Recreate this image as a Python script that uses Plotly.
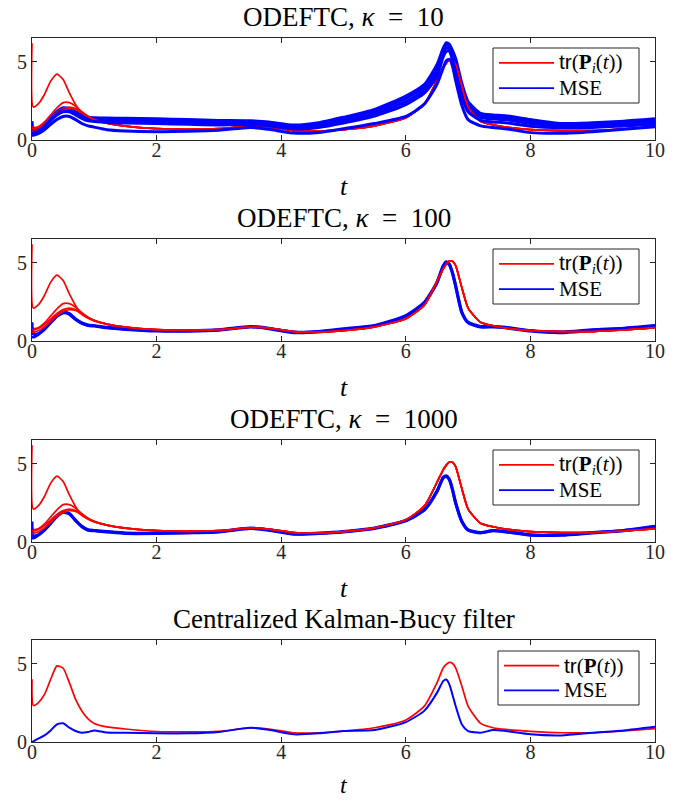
import plotly.graph_objects as go

W, H = 695, 801

# ---------------- data ----------------
T = [0, 0.02, 0.1, 0.2, 0.3, 0.4, 0.5, 0.6, 0.7, 0.8, 0.9, 1.0, 1.2, 1.5, 2.0, 2.5,
     3.0, 3.5, 3.8, 4.2, 4.6, 5.0, 5.5, 6.0, 6.3, 6.5, 6.6, 6.65, 6.7, 6.75, 6.8,
     6.9, 7.0, 7.2, 7.4, 7.6, 8.0, 8.5, 9.0, 9.5, 10.0]

# tr(P_i(t)) of the agents (same in the three ODEFTC panels)
RED_TAIL = [1.08, 0.88, 0.72, 0.68, 0.72, 0.88, 0.82, 0.6, 0.57, 0.66, 0.9, 1.42, 2.3,
            3.8, 4.6, 4.9, 5.1, 5.08, 4.8, 3.4, 2.1, 1.2, 0.97, 0.82, 0.66, 0.6, 0.6,
            0.7, 0.85]
RED_A_HEAD = [6.17, 2.1, 2.3, 2.9, 3.75, 4.2, 3.85, 3.0, 2.25, 1.7, 1.45, 1.28]
RED_B_HEAD = [0.85, 0.8, 0.85, 1.15, 1.6, 2.05, 2.38, 2.38, 2.15, 1.8, 1.52, 1.32]
RED_C_HEAD = [0.75, 0.7, 0.8, 1.05, 1.4, 1.75, 2.0, 2.1, 2.0, 1.75, 1.5, 1.3]
RED_D_HEAD = [0.55, 0.55, 0.65, 0.9, 1.25, 1.6, 1.88, 2.0, 1.95, 1.72, 1.48, 1.3]

# MSE, kappa = 10
MSE10_1 = [1.2, 0.7, 0.75, 1.0, 1.4, 1.8, 2.05, 2.0, 1.8, 1.6, 1.45, 1.42, 1.4, 1.38,
           1.35, 1.3, 1.25, 1.22, 1.15, 0.95, 1.1, 1.45, 1.95, 2.8, 3.55, 4.8, 5.85,
           6.2, 6.1, 5.7, 5.2, 3.6, 2.45, 1.7, 1.6, 1.55, 1.3, 1.05, 1.1, 1.2, 1.35]
MSE10_2 = [0.8, 0.6, 0.65, 0.95, 1.35, 1.75, 1.95, 1.95, 1.75, 1.5, 1.38, 1.35, 1.32,
           1.28, 1.25, 1.2, 1.15, 1.14, 1.07, 0.87, 1.0, 1.35, 1.82, 2.65, 3.4, 4.6,
           5.7, 6.05, 5.95, 5.5, 4.9, 3.3, 2.25, 1.6, 1.5, 1.45, 1.2, 0.98, 1.0, 1.1,
           1.25]
MSE10_3 = [0.6, 0.5, 0.6, 0.9, 1.3, 1.65, 1.9, 1.85, 1.65, 1.45, 1.3, 1.25, 1.22, 1.18,
           1.15, 1.1, 1.05, 1.06, 0.98, 0.78, 0.9, 1.22, 1.68, 2.45, 3.2, 4.3, 5.5,
           5.85, 5.8, 5.3, 4.6, 3.0, 2.0, 1.45, 1.35, 1.3, 1.05, 0.9, 0.92, 1.0, 1.12]
MSE10_4 = [0.5, 0.45, 0.55, 0.85, 1.25, 1.6, 1.8, 1.8, 1.6, 1.38, 1.22, 1.18, 1.12,
           1.08, 1.05, 1.0, 0.96, 0.98, 0.9, 0.7, 0.8, 1.08, 1.52, 2.25, 3.0, 4.05,
           5.3, 5.65, 5.65, 5.1, 4.3, 2.7, 1.8, 1.25, 1.15, 1.1, 0.88, 0.78, 0.8, 0.9,
           1.0]
MSE10_5 = [0.3, 0.3, 0.4, 0.65, 1.0, 1.3, 1.5, 1.5, 1.3, 1.05, 0.9, 0.82, 0.66, 0.58,
           0.53, 0.55, 0.62, 0.8, 0.68, 0.44, 0.48, 0.72, 1.05, 1.5, 2.3, 3.55, 4.6,
           5.05, 5.15, 4.7, 3.8, 2.2, 1.3, 0.9, 0.8, 0.72, 0.47, 0.43, 0.53, 0.68,
           0.85]

# MSE, kappa = 100
MSE100_1 = [0.3, 0.25, 0.42, 0.74, 1.16, 1.58, 1.79, 1.7, 1.37, 1.12, 0.99, 0.95, 0.84,
            0.74, 0.63, 0.62, 0.68, 0.9, 0.78, 0.53, 0.57, 0.74, 0.95, 1.58, 2.43,
            3.69, 4.75, 5.0, 4.85, 4.3, 3.48, 1.79, 1.16, 0.89, 0.89, 0.84, 0.63,
            0.53, 0.68, 0.78, 0.95]
MSE100_2 = [1.2, 0.45, 0.46, 0.78, 1.2, 1.62, 1.84, 1.74, 1.4, 1.15, 1.02, 0.98, 0.87,
            0.77, 0.67, 0.66, 0.72, 0.93, 0.82, 0.57, 0.61, 0.78, 0.99, 1.62, 2.48,
            3.75, 4.8, 5.05, 4.9, 4.35, 3.55, 1.85, 1.2, 0.93, 0.93, 0.88, 0.67, 0.57,
            0.72, 0.82, 0.99]

# MSE, kappa = 1000
MSE1000_1 = [0.25, 0.25, 0.43, 0.75, 1.18, 1.61, 1.89, 1.78, 1.35, 0.97, 0.75, 0.71,
             0.64, 0.54, 0.54, 0.58, 0.64, 0.86, 0.75, 0.49, 0.54, 0.64, 0.86, 1.35,
             2.04, 3.2, 4.08, 4.18, 3.97, 3.3, 2.47, 1.29, 0.75, 0.58, 0.71, 0.64,
             0.43, 0.43, 0.58, 0.71, 0.97]
MSE1000_2 = [1.3, 0.4, 0.46, 0.79, 1.22, 1.65, 1.93, 1.82, 1.39, 1.0, 0.78, 0.74, 0.67,
             0.57, 0.57, 0.61, 0.67, 0.89, 0.78, 0.52, 0.57, 0.67, 0.89, 1.38, 2.08,
             3.25, 4.12, 4.22, 4.0, 3.35, 2.52, 1.33, 0.78, 0.61, 0.74, 0.67, 0.46,
             0.46, 0.61, 0.74, 1.0]

# Centralized Kalman-Bucy filter
KB_TRACE = [4.0, 2.33, 2.5, 3.03, 4.0, 4.85, 4.7, 3.78, 2.71, 1.97, 1.47, 1.18, 0.96,
            0.83, 0.67, 0.64, 0.68, 0.9, 0.83, 0.59, 0.59, 0.7, 0.91, 1.4, 2.3, 3.77,
            4.72, 4.95, 5.08, 5.0, 4.72, 3.56, 2.29, 1.19, 0.91, 0.8, 0.68, 0.59, 0.59,
            0.7, 0.85]
KB_MSE = [0.0, 0.04, 0.21, 0.42, 0.74, 1.12, 1.19, 0.91, 0.7, 0.59, 0.64, 0.74, 0.6,
          0.59, 0.55, 0.55, 0.64, 0.91, 0.78, 0.49, 0.55, 0.7, 0.76, 1.27, 2.0, 3.13,
          3.88, 3.98, 3.66, 3.0, 2.29, 1.12, 0.7, 0.59, 0.76, 0.7, 0.49, 0.42, 0.59,
          0.74, 0.97]

X_TICKS = [0, 2, 4, 6, 8, 10]
Y_TICKS = [0, 5]
EQ = "\u2002=\u2002"
TITLES = ["ODEFTC, <i>κ</i>" + EQ + "10", "ODEFTC, <i>κ</i>" + EQ + "100",
          "ODEFTC, <i>κ</i>" + EQ + "1000", "Centralized Kalman-Bucy filter"]
TR = '<span style="font-family:Liberation Sans">tr</span>'
LEG_TRACE = [TR + "(<b>P</b><sub><i>i</i></sub>(<i>t</i>))"] * 3 + [TR + "(<b>P</b>(<i>t</i>))"]
LEG_MSE = "MSE"

red_agents = [RED_A_HEAD + RED_TAIL, RED_B_HEAD + RED_TAIL,
              RED_C_HEAD + RED_TAIL, RED_D_HEAD + RED_TAIL]
panels = [
    (red_agents, [MSE10_1, MSE10_2, MSE10_3, MSE10_4, MSE10_5]),
    (red_agents, [MSE100_1, MSE100_2]),
    (red_agents, [MSE1000_1, MSE1000_2]),
    ([KB_TRACE], [KB_MSE]),
]

# ---------------- styling / layout ----------------
RED, BLUE, AX = "#ff0000", "#0000ff", "#262626"
SERIF = "Liberation Serif"
X0, X1 = 32, 655
TOPS = [38, 239, 440, 640]
PH = 102
XLAB_OFF = [46, 46, 46, 43]
XLAB_SIZE = [26, 26, 26, 24]
LEGBOX = [(493, 48, 639, 103), (493, 249, 639, 304), (493, 450, 639, 505), (498, 651, 639, 705)]


def px(x):
    return x / W


def py(y):
    return 1 - y / H


fig = go.Figure()
layout = dict(width=W, height=H, margin=dict(l=0, r=0, t=0, b=0),
              paper_bgcolor="white", plot_bgcolor="white", showlegend=False)
shapes, annotations = [], []

for k, (reds, blues) in enumerate(panels):
    n = "" if k == 0 else str(k + 1)
    xa, ya = "x" + n, "y" + n
    m = max(len(reds), len(blues))
    for i in range(m):
        if i < len(reds):
            fig.add_trace(go.Scatter(x=T, y=reds[i], mode="lines", xaxis=xa, yaxis=ya,
                                     line=dict(color=RED, width=1.7, shape="spline",
                                               smoothing=0.6)))
        if i < len(blues):
            fig.add_trace(go.Scatter(x=T, y=blues[i], mode="lines", xaxis=xa, yaxis=ya,
                                     line=dict(color=BLUE, width=3 if k < 3 else 2,
                                               shape="spline", smoothing=0.6)))
    top = TOPS[k]
    bot = top + PH
    common = dict(showline=True, linecolor=AX, linewidth=1, mirror="ticks",
                  ticks="inside", ticklen=5, tickcolor=AX, tickwidth=1,
                  showgrid=False, zeroline=False, automargin=False,
                  tickfont=dict(family=SERIF, size=20, color=AX))
    layout["xaxis" + n] = dict(common, domain=[px(X0), px(X1)], range=[0, 10],
                               tickvals=X_TICKS, anchor=ya, ticklabelstandoff=-8)
    layout["yaxis" + n] = dict(common, domain=[py(bot), py(top)], range=[0, 6.5],
                               tickvals=Y_TICKS, anchor=xa)
    annotations.append(dict(text=TITLES[k], xref="paper", yref="paper",
                            x=px((X0 + X1) / 2), y=py(top - 21.5), xanchor="center",
                            yanchor="middle", showarrow=False,
                            font=dict(family=SERIF, size=27, color="black")))
    annotations.append(dict(text="<i>t</i>", xref="paper", yref="paper",
                            x=px((X0 + X1) / 2), y=py(bot + XLAB_OFF[k]), xanchor="center",
                            yanchor="middle", showarrow=False,
                            font=dict(family=SERIF, size=XLAB_SIZE[k], color="black")))
    lx0, ly0, lx1, ly1 = LEGBOX[k]
    shapes.append(dict(type="rect", xref="paper", yref="paper",
                       x0=px(lx0), x1=px(lx1), y0=py(ly1), y1=py(ly0),
                       line=dict(color=AX, width=1), fillcolor="white"))
    hgt = ly1 - ly0
    r_y = ly0 + hgt * 0.27
    b_y = ly0 + hgt * 0.73
    for yy, col in ((r_y, RED), (b_y, BLUE)):
        shapes.append(dict(type="line", xref="paper", yref="paper",
                           x0=px(lx0 + 6), x1=px(lx0 + 61), y0=py(yy), y1=py(yy),
                           line=dict(color=col, width=1.7)))
    annotations.append(dict(text=LEG_TRACE[k], xref="paper", yref="paper",
                            x=px(lx0 + 64), y=py(r_y), xanchor="left", yanchor="middle",
                            showarrow=False,
                            font=dict(family=SERIF, size=21, color="black")))
    annotations.append(dict(text=LEG_MSE, xref="paper", yref="paper",
                            x=px(lx0 + 64), y=py(b_y), xanchor="left", yanchor="middle",
                            showarrow=False,
                            font=dict(family=SERIF, size=21, color="black")))

layout["shapes"] = shapes
layout["annotations"] = annotations
fig.update_layout(**layout)
fig.write_html("out.html", config={"displayModeBar": False},
               post_script="document.body.style.margin='0px';")
